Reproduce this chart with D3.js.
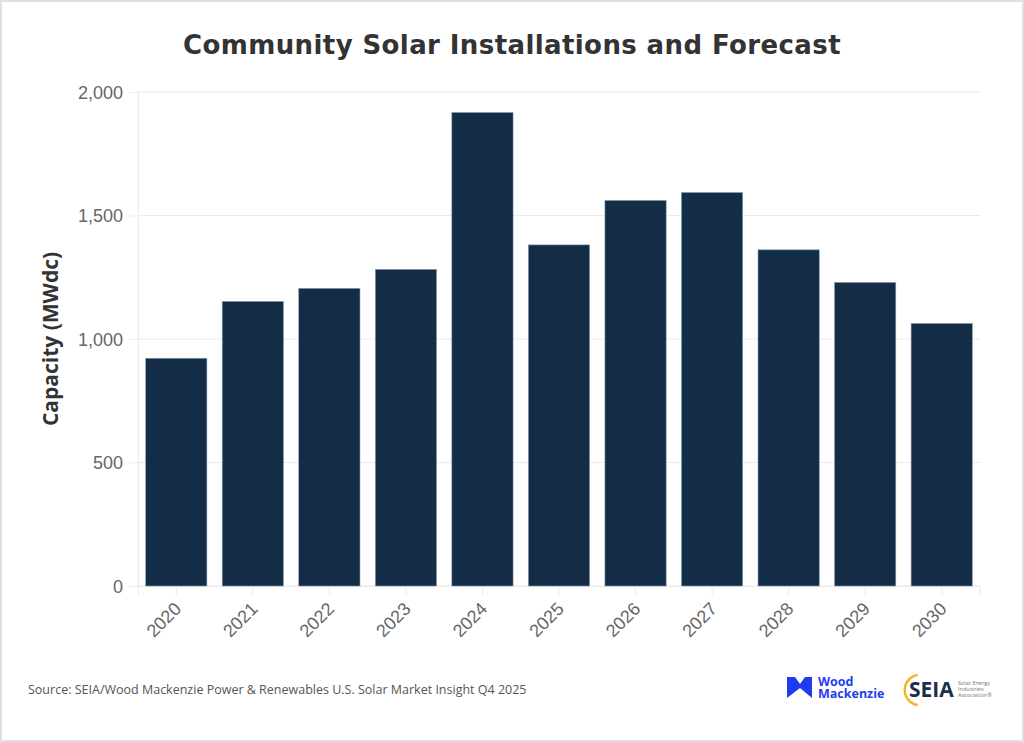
<!DOCTYPE html>
<html>
<head>
<meta charset="utf-8">
<script src="https://cdn.jsdelivr.net/npm/d3@7"></script>
<style>
  html, body { margin: 0; padding: 0; background: #fff; }
  svg { display: block; font-family: "Open Sans", sans-serif; }
</style>
</head>
<body>
<svg id="chart"></svg>
<script>
const years = ["2020", "2021", "2022", "2023", "2024", "2025", "2026", "2027", "2028", "2029", "2030"];
const capacity = [922, 1152, 1205, 1282, 1917, 1381, 1561, 1593, 1361, 1229, 1063];
const yTicks = [0, 500, 1000, 1500, 2000];

const width = 1024, height = 742;
const margin = { top: 92, right: 44, bottom: 156, left: 138 };

const svg = d3.select("#chart")
    .attr("width", width)
    .attr("height", height);

// Frame
svg.append("rect")
    .attr("x", 1).attr("y", 1)
    .attr("width", width - 2).attr("height", height - 2)
    .attr("fill", "#fff")
    .attr("stroke", "#e0e0e0")
    .attr("stroke-width", 2);

const x = d3.scaleBand()
    .domain(years)
    .range([margin.left, width - margin.right])
    .paddingInner(0.2)
    .paddingOuter(0.1);

const y = d3.scaleLinear()
    .domain([0, 2000])
    .range([height - margin.bottom, margin.top]);

// Gridlines
svg.append("g")
    .selectAll("line")
    .data(yTicks)
    .join("line")
    .attr("x1", margin.left)
    .attr("x2", width - margin.right)
    .attr("y1", d => y(d))
    .attr("y2", d => y(d))
    .attr("stroke", "#ebebeb")
    .attr("stroke-width", 1);

// Y axis
const yAxis = svg.append("g")
    .attr("transform", `translate(${margin.left},0)`)
    .call(d3.axisLeft(y).tickValues(yTicks).tickSize(9).tickPadding(6).tickFormat(d3.format(",")));
yAxis.select(".domain").attr("stroke", "#ebebeb");
yAxis.selectAll(".tick line").attr("stroke", "#ebebeb");
yAxis.selectAll(".tick text")
    .attr("fill", "#666")
    .style("font-size", "18px")
    .attr("dy", "0.36em");

// X axis
const xAxis = svg.append("g")
    .attr("transform", `translate(0,${height - margin.bottom})`)
    .call(d3.axisBottom(x).tickSize(9).tickPadding(0));
xAxis.select(".domain").attr("stroke", "#ebebeb");
xAxis.selectAll(".tick line").attr("stroke", "#ebebeb");
xAxis.selectAll(".tick text")
    .attr("fill", "#666")
    .style("font-size", "18px")
    .attr("x", 0).attr("y", 0).attr("dy", 0)
    .attr("text-anchor", "end")
    .attr("transform", "translate(6,24) rotate(-45)");

// Bars
svg.append("g")
    .selectAll("rect")
    .data(years)
    .join("rect")
    .attr("x", d => x(d))
    .attr("width", x.bandwidth())
    .attr("y", (d, i) => y(capacity[i]))
    .attr("height", (d, i) => y(0) - y(capacity[i]))
    .attr("fill", "#122d45")
    .attr("stroke", "#8a9bb0")
    .attr("stroke-width", 0.6);

// Title
svg.append("text")
    .attr("x", width / 2)
    .attr("y", 54)
    .attr("text-anchor", "middle")
    .attr("fill", "#333")
    .style("font-family", "'DejaVu Sans', sans-serif")
    .style("font-size", "26px")
    .style("font-weight", "bold")
    .style("letter-spacing", "0.4px")
    .text("Community Solar Installations and Forecast");

// Y axis title
svg.append("text")
    .attr("transform", `translate(58,${(y(0) + y(2000)) / 2}) rotate(-90)`)
    .attr("text-anchor", "middle")
    .attr("fill", "#333")
    .style("font-size", "21px")
    .style("font-weight", "bold")
    .text("Capacity (MWdc)");

// Source
svg.append("text")
    .attr("x", 28)
    .attr("y", 694)
    .attr("fill", "#555")
    .style("font-size", "12.5px")
    .text("Source: SEIA/Wood Mackenzie Power & Renewables U.S. Solar Market Insight Q4 2025");

// Wood Mackenzie logo
const wm = svg.append("g");
wm.append("path")
    .attr("d", "M787,677 L795,677 L800,684 L805,677 L812,677 L812,698 L800,688 L787,698 Z")
    .attr("fill", "#1f3cf0");
const wmText = wm.append("text")
    .attr("fill", "#1f3cf0")
    .style("font-size", "12.5px")
    .style("font-weight", "bold");
wmText.append("tspan").attr("x", 818).attr("y", 686).text("Wood");
wmText.append("tspan").attr("x", 818).attr("y", 698).text("Mackenzie");

// SEIA logo
const seia = svg.append("g");
const arc = d3.arc()
    .innerRadius(14)
    .outerRadius(16.5)
    .startAngle(-Math.PI * 0.05)
    .endAngle(-Math.PI * 0.95);
seia.append("path")
    .attr("transform", "translate(920,690)")
    .attr("d", arc)
    .attr("fill", "#f2b62e");
seia.append("text")
    .attr("x", 909).attr("y", 697)
    .attr("fill", "#1d2e48")
    .style("font-size", "21px")
    .style("font-weight", "bold")
    .text("SEIA");
const seiaSmall = ["Solar Energy", "Industries", "Association®"];
seia.append("text")
    .attr("fill", "#777")
    .style("font-size", "5.5px")
    .selectAll("tspan")
    .data(seiaSmall)
    .join("tspan")
    .attr("x", 958)
    .attr("y", (d, i) => 685 + i * 6)
    .text(d => d);
</script>
</body>
</html>
